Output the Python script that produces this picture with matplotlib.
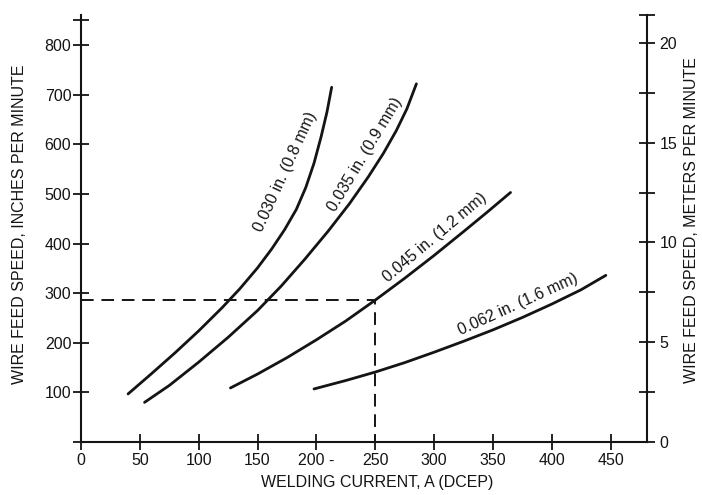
import matplotlib
matplotlib.use("Agg")
from matplotlib import pyplot as plt

plt.rcParams['font.family'] = ['Liberation Sans', 'DejaVu Sans']
plt.rcParams['font.size'] = 11.5

ink = '#141414'

# curves: welding current (A) -> wire feed speed (in/min)
current_030 = [40, 60, 80, 100, 120, 135, 150, 162, 173, 183, 191, 198, 204, 209, 213]
speed_030 = [97, 138, 180, 224, 271, 309, 351, 389, 428, 469, 513, 562, 615, 665, 715]

current_035 = [54, 75, 100, 125, 150, 170, 190, 210, 228, 244, 257, 268, 277, 285]
speed_035 = [80, 114, 161, 211, 265, 314, 368, 425, 480, 534, 582, 628, 672, 722]

current_045 = [127, 150, 175, 200, 225, 250, 275, 300, 325, 345, 365]
speed_045 = [109, 137, 170, 206, 244, 286, 330, 376, 424, 463, 503]

current_062 = [198, 225, 250, 275, 300, 325, 350, 375, 400, 425, 446]
speed_062 = [107, 124, 141, 160, 181, 203, 226, 251, 278, 307, 336]

# example reading marked with dashed lines
mark_current = 250
mark_speed = 287

# curve labels: text, anchor (A, in/min), angle on screen
labels = ['0.030 in. (0.8 mm)', '0.035 in. (0.9 mm)', '0.045 in. (1.2 mm)', '0.062 in. (1.6 mm)']
label_x = [174, 241, 301, 371]
label_y = [544, 579, 413, 278]
label_angle = [65.3, 59, 40, 24.4]

x_ticks = [0, 50, 100, 150, 200, 250, 300, 350, 400, 450]
x_tick_labels = ['0', '50', '100', '150', '200 -', '250', '300', '350', '400', '450']
y_ticks = [0, 100, 200, 300, 400, 500, 600, 700, 800, 850]
y_tick_labels = ['', '100', '200', '300', '400', '500', '600', '700', '800', '']
m_ticks = [0, 2.5, 5, 7.5, 10, 12.5, 15, 17.5, 20, 21.4]
m_tick_labels = ['0', '', '5', '', '10', '', '15', '', '20', '']

fig = plt.figure(figsize=(7.02, 4.95), dpi=100)
ax = fig.add_axes([0.1154, 0.107, 0.8063, 0.863])

for xs, ys in [(current_030, speed_030), (current_035, speed_035),
               (current_045, speed_045), (current_062, speed_062)]:
    ax.plot(xs, ys, color=ink, linewidth=2.0, solid_capstyle='round',
            solid_joinstyle='round')

ax.plot([0, mark_current, mark_current], [mark_speed, mark_speed, 0],
        color=ink, linewidth=1.4, dashes=(6.5, 4))

for text, lx, ly, ang in zip(labels, label_x, label_y, label_angle):
    ax.text(lx, ly, text, rotation=ang, rotation_mode='anchor',
            ha='center', va='center', fontsize=11.5, color=ink)

ax.set_xlim(0, 481)
ax.set_ylim(0, 861)
ax.spines['top'].set_visible(False)
ax.spines['right'].set_visible(False)
for s in ['left', 'bottom']:
    ax.spines[s].set_linewidth(1.5)
    ax.spines[s].set_color(ink)

ax.set_xticks(x_ticks)
ax.set_xticklabels(x_tick_labels)
ax.set_yticks(y_ticks)
ax.set_yticklabels(y_tick_labels)
ax.tick_params(axis='x', direction='inout', length=12, width=1.3, pad=2, colors=ink)
ax.tick_params(axis='y', direction='inout', length=12, width=1.3, pad=1, colors=ink)

ax.set_xlabel('WELDING CURRENT, A (DCEP)', color=ink)
ax.xaxis.set_label_coords(0.523, -0.078)
ax.set_ylabel('WIRE FEED SPEED, INCHES PER MINUTE', color=ink)
ax.yaxis.set_label_coords(-0.095, 0.51)

ax2 = ax.twinx()
ax2.set_ylim(0, 21.4)
for s in ['top', 'left', 'bottom']:
    ax2.spines[s].set_visible(False)
ax2.spines['right'].set_linewidth(1.5)
ax2.spines['right'].set_color(ink)
ax2.set_yticks(m_ticks)
ax2.set_yticklabels(m_tick_labels)
ax2.tick_params(axis='y', direction='inout', length=12, width=1.3, pad=3, colors=ink)
ax2.set_ylabel('WIRE FEED SPEED, METERS PER MINUTE', color=ink)
ax2.yaxis.set_label_coords(1.066, 0.52)

fig.savefig('out.png', dpi=100)
